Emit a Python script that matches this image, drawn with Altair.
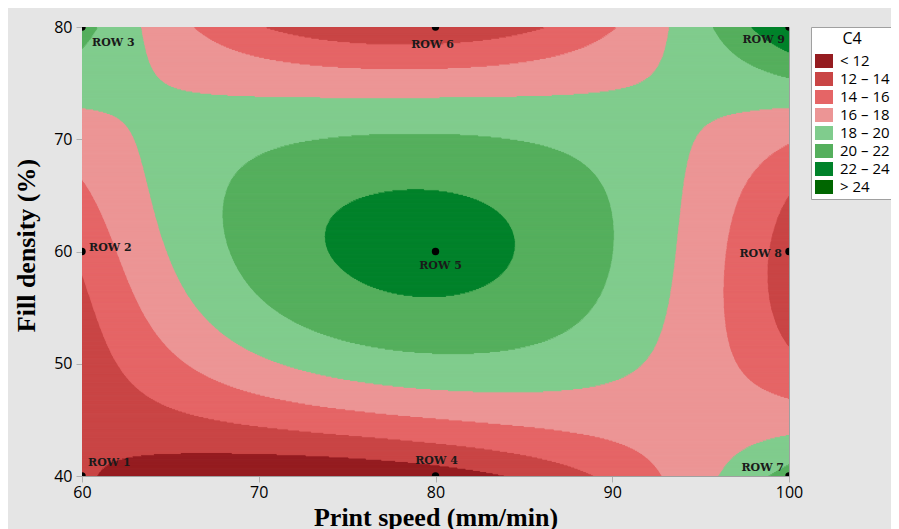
import numpy as np
import pandas as pd
import altair as alt

# ---- data ----
speed_levels = [60, 80, 100]          # Print speed (mm/min)
density_levels = [40, 60, 80]         # Fill density (%)
# C4 at the nine design points (columns follow speed_levels)
c4_at_density_40 = [12.3, 10.9, 20.9]
c4_at_density_60 = [14.4, 22.6, 13.0]
c4_at_density_80 = [20.8, 12.5, 24.2]

run_names = ["ROW 1", "ROW 2", "ROW 3", "ROW 4", "ROW 5", "ROW 6", "ROW 7", "ROW 8", "ROW 9"]
run_speed = [60, 60, 60, 80, 80, 80, 100, 100, 100]
run_density = [40, 60, 80, 40, 60, 80, 40, 60, 80]

band_edges = [12, 14, 16, 18, 20, 22, 24]
band_labels = ["< 12", "12 – 14", "14 – 16", "16 – 18", "18 – 20", "20 – 22", "22 – 24", "> 24"]
band_colors = ["#951c20", "#c94545", "#e56566", "#ec9595", "#80cc8d", "#55af5d", "#00822a", "#006600"]

# ---- quadratic response surface through the design points ----
V = np.array([c4_at_density_40, c4_at_density_60, c4_at_density_80])


def basis(t):
    t = np.asarray(t, dtype=float)
    return np.array([t * (t - 1) / 2, 1 - t * t, t * (t + 1) / 2])


xs = np.linspace(speed_levels[0], speed_levels[-1], 2001)
bu = basis((xs - speed_levels[1]) / (speed_levels[2] - speed_levels[1]))
ny = 400
y0, y1 = density_levels[0], density_levels[-1]
dy = (y1 - y0) / ny
rows = []
for k in range(ny):
    ylo = y0 + k * dy
    yc = ylo + dy / 2
    bv = basis((yc - density_levels[1]) / (density_levels[2] - density_levels[1]))
    z = bv @ V @ bu
    b = np.digitize(z, band_edges)
    change = np.flatnonzero(np.diff(b)) + 1
    starts = np.r_[0, change]
    ends = np.r_[change, len(xs)]
    for s, e in zip(starts, ends):
        xa = xs[0] if s == 0 else (xs[s - 1] + xs[s]) / 2
        xb = xs[-1] if e == len(xs) else (xs[e - 1] + xs[e]) / 2
        rows.append({"x1": xa, "x2": xb, "y1": ylo, "y2": ylo + dy, "band": band_labels[b[s]]})
bands_df = pd.DataFrame(rows)

runs_df = pd.DataFrame({"run": run_names, "speed": run_speed, "density": run_density})

# ---- styling ----
X_TITLE = "Print speed (mm/min)"
Y_TITLE = "Fill density (%)"
x_scale = alt.Scale(domain=[60, 100], nice=False, zero=False)
y_scale = alt.Scale(domain=[40, 80], nice=False, zero=False)
color_scale = alt.Scale(domain=band_labels, range=band_colors)

x_axis = alt.Axis(values=[60, 70, 80, 90, 100], title=X_TITLE, labelFlush=False, grid=False,
                  titleFont="Liberation Serif", titleFontSize=26, titleFontWeight="bold",
                  titleColor="black", titlePadding=4,
                  labelFont="Open Sans", labelFontSize=16, labelColor="black", labelPadding=2,
                  tickSize=6, tickColor="#b0b0b0", domainColor="#a0a0a0")
y_axis = alt.Axis(values=[40, 50, 60, 70, 80], title=Y_TITLE, labelFlush=False, grid=False,
                  titleFont="Liberation Serif", titleFontSize=26, titleFontWeight="bold",
                  titleColor="black", titlePadding=14, titleY=218,
                  labelFont="Open Sans", labelFontSize=16, labelColor="black", labelPadding=4,
                  tickSize=6, tickColor="#b0b0b0", domainColor="#a0a0a0")

nb = "\u00a0" * 5
legend = alt.Legend(title="C4", orient="none", legendX=729, legendY=0,
                    titleFont="Open Sans", titleFontSize=16, titleFontWeight="normal",
                    titleColor="black", titleAnchor="middle", titlePadding=5,
                    labelFont="Open Sans", labelFontSize=15, labelColor="black", labelOffset=7,
                    labelExpr=f"(datum.label == '< 12' || datum.label == '> 24') ? '{nb}' + datum.label : datum.label",
                    symbolType="M-1,-0.78H1V0.78H-1Z", symbolSize=324, symbolStrokeWidth=0,
                    rowPadding=1, padding=4, fillColor="white", strokeColor="#a0a0a0")

bands = alt.Chart(bands_df).mark_rect(clip=True, strokeWidth=1).encode(
    x=alt.X("x1:Q", scale=x_scale, axis=x_axis),
    x2="x2:Q",
    y=alt.Y("y1:Q", scale=y_scale, axis=y_axis),
    y2="y2:Q",
    color=alt.Color("band:N", scale=color_scale, legend=legend),
    stroke=alt.Stroke("band:N", scale=color_scale, legend=None),
)

points = alt.Chart(runs_df).mark_circle(size=55, color="black", opacity=1, clip=True).encode(
    x=alt.X("speed:Q", scale=x_scale, title=X_TITLE),
    y=alt.Y("density:Q", scale=y_scale, title=Y_TITLE),
)

label_style = {
    "ROW 1": ("left", 6, -13), "ROW 2": ("left", 7, -4), "ROW 3": ("left", 10, 16),
    "ROW 4": ("center", 1, -15), "ROW 5": ("center", 5, 14), "ROW 6": ("center", -3, 18),
    "ROW 7": ("right", -5, -8), "ROW 8": ("right", -7, 2), "ROW 9": ("right", -4, 13),
}
labels = []
for name, (al, ddx, ddy) in label_style.items():
    labels.append(
        alt.Chart(runs_df).transform_filter(alt.datum.run == name)
        .mark_text(align=al, baseline="middle", dx=ddx, dy=ddy, font="DejaVu Serif",
                   fontWeight="bold", fontSize=11, color="#1a1a1a")
        .encode(x=alt.X("speed:Q", scale=x_scale, title=X_TITLE),
                y=alt.Y("density:Q", scale=y_scale, title=Y_TITLE),
                text="run:N")
    )

chart = alt.layer(bands, points, *labels).properties(
    width=707, height=449, background="#e5e5e5",
    padding={"left": 74, "top": 19, "right": 102, "bottom": 53},
    autosize=alt.AutoSizeParams(type="none"),
).configure_view(stroke="#a0a0a0", strokeWidth=1)

chart.save("out.html", embed_options={"renderer": "svg", "actions": False})
